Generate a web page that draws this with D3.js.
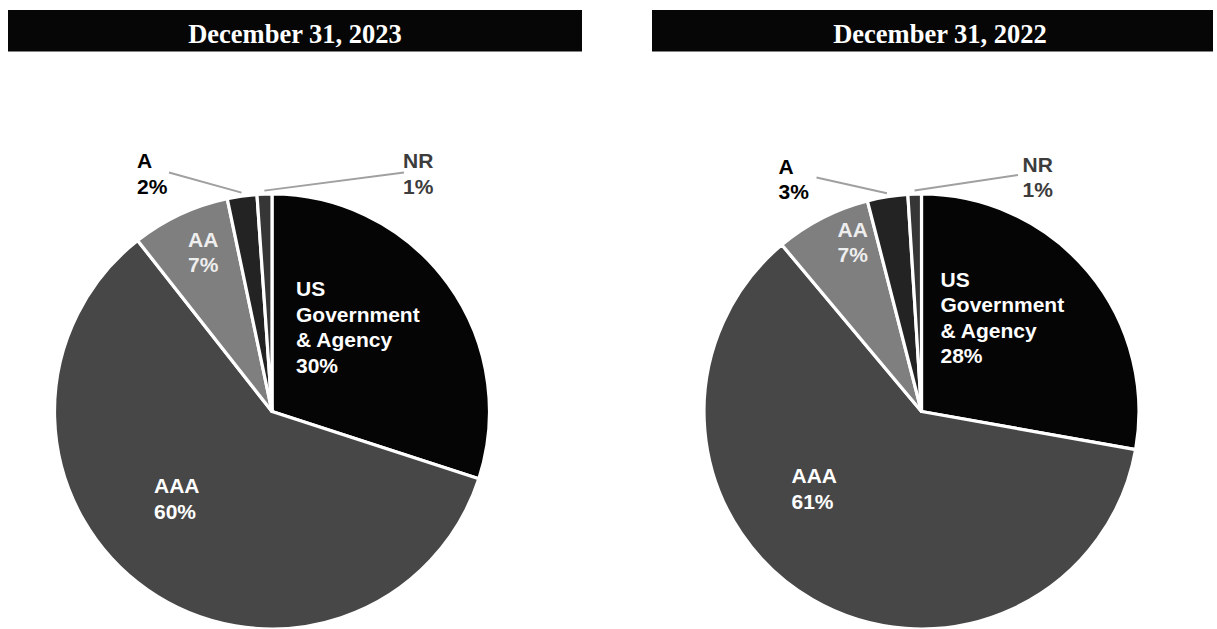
<!DOCTYPE html>
<html><head><meta charset="utf-8">
<script src="https://cdn.jsdelivr.net/npm/d3@7"></script>
<style>html,body{margin:0;padding:0;background:#fff;}svg{display:block;}</style>
</head><body>
<svg id="chart" width="1217" height="629"></svg>
<script>
// ---- data ----
const categories = ["US Government & Agency", "AAA", "AA", "A", "NR"];
const labelNames = [["US", "Government", "& Agency"], ["AAA"], ["AA"], ["A"], ["NR"]];
const titles = ["December 31, 2023", "December 31, 2022"];
const values2023 = [30.0, 59.4, 7.3, 2.2, 1.1];
const values2022 = [27.8, 61.1, 7.1, 3.0, 1.0];
const pctLabels2023 = ["30%", "60%", "7%", "2%", "1%"];
const pctLabels2022 = ["28%", "61%", "7%", "3%", "1%"];

// ---- styling / layout ----
const colors = ["#050505", "#474747", "#7f7f7f", "#232323", "#363636"];
const textColors = ["#ffffff", "#ffffff", "#eeeeee", "#000000", "#3c3c3c"];
const outside = [false, false, false, true, true];

const panels = [
  { title: titles[0], values: values2023, pct: pctLabels2023,
    bar: [8, 582], textX: 295, cx: 272, cy: 411.5,
    lab: [[24, -115.5], [-118, 81.5], [-84, -165], [-135, -243.5], [131, -243.5]],
    lineStart: [null, null, null, [169, 172.5], [404, 172.5]] },
  { title: titles[1], values: values2022, pct: pctLabels2022,
    bar: [652, 1213], textX: 940, cx: 921.5, cy: 411.5,
    lab: [[19, -125], [-130, 71.5], [-84, -175], [-143, -238], [101, -240]],
    lineStart: [null, null, null, [816.5, 177.5], [1018, 175]] }
];
const R = 217.5;
const lineH = 25.5;

const svg = d3.select("#chart");
const pie = d3.pie().sort(null).value(d => d);
const arc = d3.arc().innerRadius(0).outerRadius(R);

panels.forEach(p => {
  // header
  svg.append("rect").attr("x", p.bar[0]).attr("y", 10)
    .attr("width", p.bar[1] - p.bar[0]).attr("height", 41.5).attr("fill", "#060606");
  svg.append("text").attr("x", p.textX).attr("y", 42.5)
    .attr("text-anchor", "middle")
    .attr("font-family", "'Liberation Serif', 'Times New Roman', serif")
    .attr("font-weight", "bold").attr("font-size", 26.5)
    .attr("fill", "#ffffff").text(p.title);

  const g = svg.append("g").attr("transform", `translate(${p.cx},${p.cy})`);
  const arcs = pie(p.values);
  g.selectAll("path").data(arcs).enter().append("path")
    .attr("d", arc)
    .attr("fill", (d, i) => colors[i])
    .attr("stroke", "#ffffff").attr("stroke-width", 3.2).attr("stroke-linejoin", "round");

  // leader lines
  arcs.forEach((d, i) => {
    if (!outside[i]) return;
    const mid = (d.startAngle + d.endAngle) / 2;
    const r2 = R + 3.5;
    const ex = p.cx + r2 * Math.sin(mid), ey = p.cy - r2 * Math.cos(mid);
    svg.append("line")
      .attr("x1", p.lineStart[i][0]).attr("y1", p.lineStart[i][1])
      .attr("x2", ex).attr("y2", ey)
      .attr("stroke", "#a0a0a0").attr("stroke-width", 2);
  });

  // labels
  arcs.forEach((d, i) => {
    const lines = labelNames[i].concat([p.pct[i]]);
    const t = svg.append("text")
      .attr("font-family", "'Liberation Sans', Arial, sans-serif")
      .attr("font-weight", "bold").attr("font-size", 21)
      .attr("fill", textColors[i]);
    lines.forEach((s, k) => {
      t.append("tspan").attr("x", p.cx + p.lab[i][0])
        .attr("y", p.cy + p.lab[i][1] + k * lineH).text(s);
    });
  });
});
</script>
</body></html>
